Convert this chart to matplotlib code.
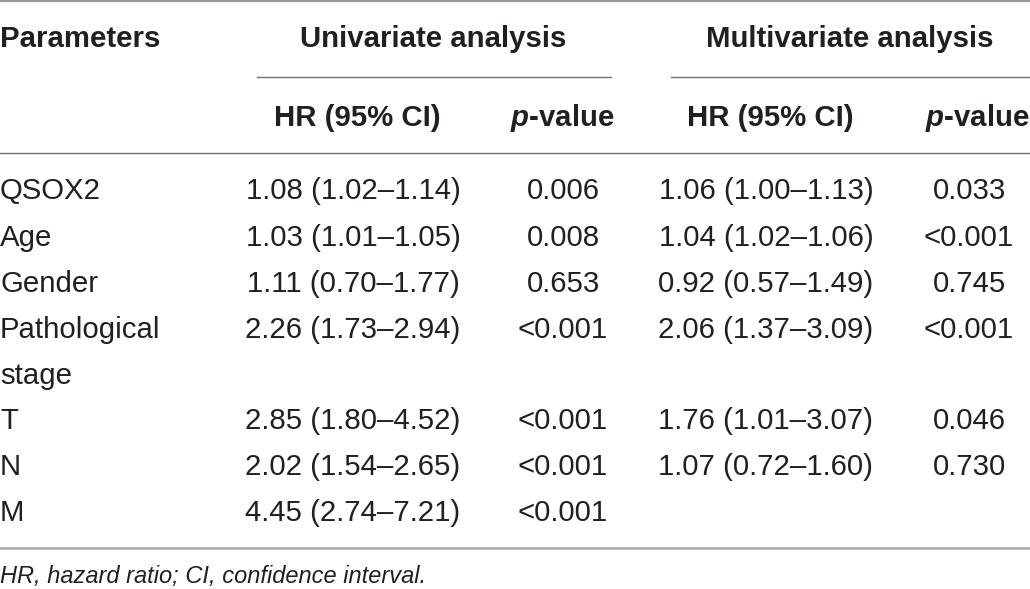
import matplotlib
matplotlib.use("Agg")
import matplotlib.pyplot as plt
from matplotlib.lines import Line2D

plt.rcParams["mathtext.fontset"] = "custom"
plt.rcParams["mathtext.bfit"] = "Liberation Sans:bold:italic"

# ---- data ----
group_headers = ["Univariate analysis", "Multivariate analysis"]
sub_headers = ["HR (95% CI)", "p-value", "HR (95% CI)", "p-value"]
parameters = ["QSOX2", "Age", "Gender", "Pathological\nstage", "T", "N", "M"]
uni_hr = ["1.08 (1.02–1.14)", "1.03 (1.01–1.05)", "1.11 (0.70–1.77)",
          "2.26 (1.73–2.94)", "2.85 (1.80–4.52)", "2.02 (1.54–2.65)",
          "4.45 (2.74–7.21)"]
uni_p = ["0.006", "0.008", "0.653", "<0.001", "<0.001", "<0.001", "<0.001"]
multi_hr = ["1.06 (1.00–1.13)", "1.04 (1.02–1.06)", "0.92 (0.57–1.49)",
            "2.06 (1.37–3.09)", "1.76 (1.01–3.07)", "1.07 (0.72–1.60)", ""]
multi_p = ["0.033", "<0.001", "0.745", "<0.001", "0.046", "0.730", ""]
footnote = "HR, hazard ratio; CI, confidence interval."

# ---- layout (pixels) ----
W, H = 1030, 589
fig = plt.figure(figsize=(W / 100, H / 100), dpi=100)
ax = fig.add_axes([0, 0, 1, 1])
ax.set_xlim(0, W)
ax.set_ylim(H, 0)
ax.axis("off")

FONT = "Liberation Sans"
TXT = "#231f20"
FS = 21.2
FS_FOOT = 17
LINE_STEP = 46

def txt(x, y, s, ha="center", bold=False, italic=False, size=FS, **kw):
    ax.text(x, y, s, ha=ha, va="baseline", family=FONT, fontsize=size,
            fontweight="bold" if bold else "normal",
            fontstyle="italic" if italic else "normal", color=TXT, **kw)

# horizontal rules
ax.add_line(Line2D([0, W], [1, 1], color="#9a9a9a", lw=1.6))
ax.add_line(Line2D([257, 611], [77, 77], color="#6e6e6e", lw=1.0))
ax.add_line(Line2D([671, W], [77, 77], color="#6e6e6e", lw=1.0))
ax.add_line(Line2D([0, W], [153, 153], color="#6e6e6e", lw=1.0))
ax.add_line(Line2D([0, W], [548, 548], color="#aaaaaa", lw=1.8))

# headers
hb1 = 47
txt(0, hb1, "Parameters", ha="left", bold=True)
txt(433, hb1, group_headers[0], bold=True)
txt(850, hb1, group_headers[1], bold=True)

hb2 = 126
sub_x = [357, 562, 770, 977]
for x, s in zip(sub_x, sub_headers):
    if s.startswith("p-"):
        ax.text(x, hb2, r"$\mathbfit{p}$" + s[1:], ha="center", va="baseline",
                family=FONT, fontsize=FS, fontweight="bold", color=TXT)
    else:
        txt(x, hb2, s, bold=True)

# rows
row_base = [199, 246, 292, 338, 429, 475, 521]
col_x = [353, 563, 766, 969]
for i, p in enumerate(parameters):
    y = row_base[i]
    for k, line in enumerate(p.split("\n")):
        txt(0, y + k * LINE_STEP, line, ha="left")
    for x, vals in zip(col_x, [uni_hr, uni_p, multi_hr, multi_p]):
        if vals[i]:
            txt(x, y, vals[i])

txt(0, 583, footnote, ha="left", italic=True, size=FS_FOOT)

fig.savefig("out.png", dpi=100)
